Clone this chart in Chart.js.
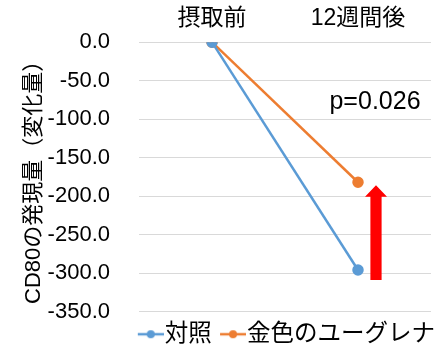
<!DOCTYPE html>
<html><head><meta charset="utf-8">
<script src="https://cdn.jsdelivr.net/npm/chart.js@4/dist/chart.umd.min.js"></script>
<style>html,body{margin:0;padding:0;background:#fff}#wrap{width:446px;height:358px;position:relative}</style>
</head><body><div id="wrap"><canvas id="c"></canvas></div>
<script>
const categories = ['摂取前', '12週間後'];
const seriesNames = ['対照', '金色のユーグレナ'];
const controlValues = [0, -296];
const goldValues = [0, -182];
const yMin = -350, yMax = 0, yStep = 50;
const yTitle = 'CD80の発現量（変化量）';
const arrowFrom = -309, arrowTo = -186;   // red arrow at the 2nd category
const pValueText = 'p=0.026';
const pValueAt = -78;

const BLUE = '#5b9bd5', ORANGE = '#ed7d31';
const FONT = '"Liberation Sans", "Noto Sans CJK JP", sans-serif';

function legendIcon(color) {
  const c = document.createElement('canvas');
  c.width = 34; c.height = 10;
  const g = c.getContext('2d');
  g.strokeStyle = color; g.lineWidth = 2.5;
  g.beginPath(); g.moveTo(8, 5); g.lineTo(34, 5); g.stroke();
  g.fillStyle = color; g.beginPath(); g.arc(21, 5, 4, 0, Math.PI * 2); g.fill();
  return c;
}

const annotations = {
  id: 'annotations',
  afterDatasetsDraw(chart) {
    const ctx = chart.ctx, x = chart.scales.x, y = chart.scales.y;
    const cx = x.getPixelForValue(1) + 18;
    const yTop = y.getPixelForValue(arrowTo), yBot = y.getPixelForValue(arrowFrom);
    const headH = 11.5, headW = 11, shaftW = 5.6;
    ctx.save();
    ctx.fillStyle = '#ff0000';
    ctx.beginPath();
    ctx.moveTo(cx, yTop);
    ctx.lineTo(cx + headW, yTop + headH);
    ctx.lineTo(cx + shaftW, yTop + headH);
    ctx.lineTo(cx + shaftW, yBot);
    ctx.lineTo(cx - shaftW, yBot);
    ctx.lineTo(cx - shaftW, yTop + headH);
    ctx.lineTo(cx - headW, yTop + headH);
    ctx.closePath();
    ctx.fill();
    ctx.fillStyle = '#000';
    ctx.font = '25px ' + FONT;
    ctx.textAlign = 'center';
    ctx.textBaseline = 'middle';
    ctx.fillText(pValueText, x.getPixelForValue(1) + 17, y.getPixelForValue(pValueAt));
    ctx.restore();
  }
};

new Chart(document.getElementById('c'), {
  type: 'line',
  data: {
    labels: categories,
    datasets: [
      { label: seriesNames[0], data: controlValues, borderColor: BLUE, backgroundColor: BLUE,
        borderWidth: 2.5, pointRadius: 4.5, pointHoverRadius: 4.5, pointStyle: 'circle', tension: 0 },
      { label: seriesNames[1], data: goldValues, borderColor: ORANGE, backgroundColor: ORANGE,
        borderWidth: 2.5, pointRadius: 4.5, pointHoverRadius: 4.5, pointStyle: 'circle', tension: 0 }
    ]
  },
  options: {
    responsive: true, maintainAspectRatio: false, animation: false,
    layout: { padding: { left: 0, right: 0, top: 0, bottom: 2 } },
    font: { family: FONT },
    plugins: {
      tooltip: { enabled: false },
      legend: {
        position: 'bottom', align: 'end',
        labels: {
          usePointStyle: true, pointStyleWidth: 12.5, padding: 11, color: '#000',
          font: { family: FONT, size: 23.5 },
          generateLabels(chart) {
            return chart.data.datasets.map((d, i) => ({
              text: d.label, pointStyle: legendIcon(d.borderColor), fillStyle: d.borderColor,
              strokeStyle: d.borderColor, lineWidth: 0, datasetIndex: i, hidden: false, fontColor: '#000'
            }));
          }
        }
      }
    },
    scales: {
      x: {
        type: 'category', position: 'top', offset: true,
        grid: { display: false, drawTicks: false }, border: { display: false },
        ticks: { color: '#000', font: { family: FONT, size: 23 }, padding: 10 },
        afterFit(s) { s.height = 42; }
      },
      y: {
        min: yMin, max: yMax,
        grid: { color: '#d9d9d9', lineWidth: 1, drawTicks: false }, border: { display: false },
        ticks: { stepSize: yStep, color: '#000', font: { family: FONT, size: 22 }, padding: 29,
          callback: v => v.toFixed(1) },
        title: { display: true, text: yTitle, color: '#000', font: { family: FONT, size: 22 }, padding: { top: 21, bottom: 0 } },
        afterFit(s) { s.width = 139; }
      },
      rightSpace: {
        type: 'linear', position: 'right', display: true,
        grid: { display: false, drawTicks: false }, border: { display: false },
        ticks: { display: false },
        afterFit(s) { s.width = 15; }
      }
    }
  },
  plugins: [annotations]
});
</script>
</body></html>
